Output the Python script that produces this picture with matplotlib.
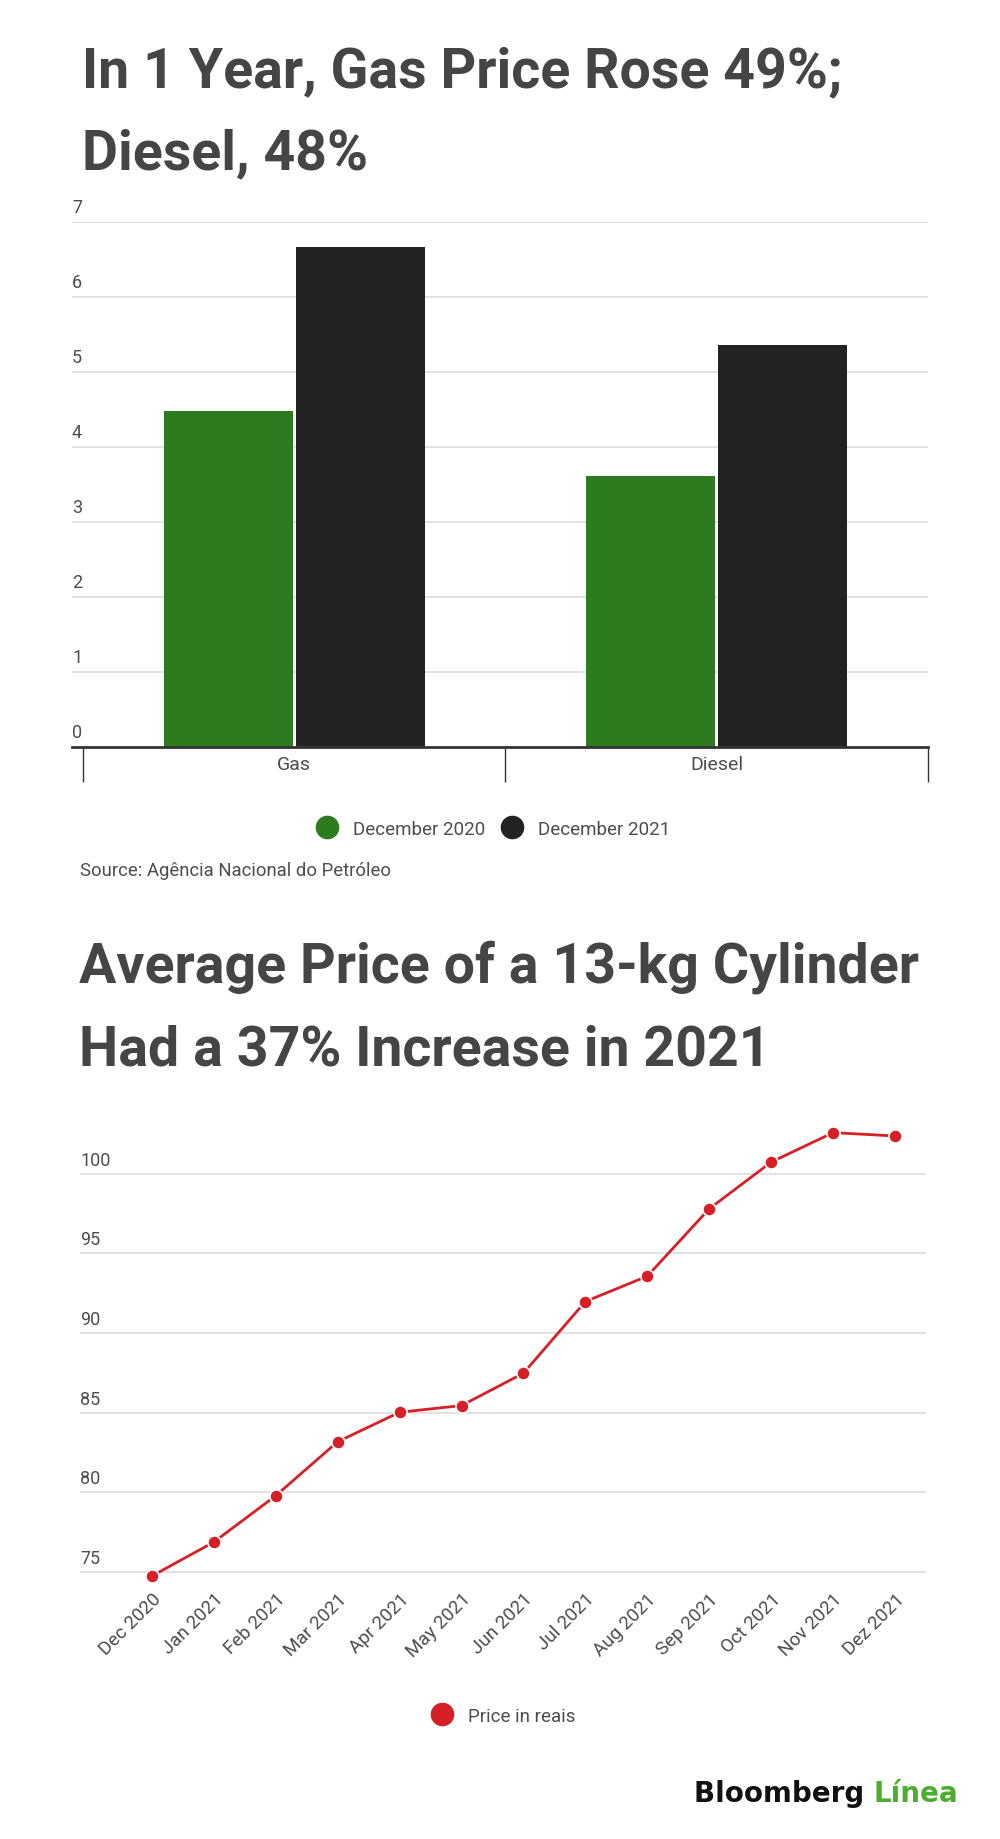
import matplotlib
matplotlib.use("Agg")
import matplotlib.pyplot as plt
import matplotlib.transforms as mtransforms
from matplotlib.lines import Line2D

plt.rcParams["font.family"] = ["Roboto", "DejaVu Sans"]

# --- data -------------------------------------------------------------
fuels = ["Gas", "Diesel"]
dec_2020 = [4.48, 3.61]
dec_2021 = [6.67, 5.36]
bar_series = ["December 2020", "December 2021"]
bar_ticks = [0, 1, 2, 3, 4, 5, 6, 7]

months = ["Dec 2020", "Jan 2021", "Feb 2021", "Mar 2021", "Apr 2021",
          "May 2021", "Jun 2021", "Jul 2021", "Aug 2021", "Sep 2021",
          "Oct 2021", "Nov 2021", "Dez 2021"]
cylinder_price = [74.75, 76.88, 79.79, 83.18, 85.03, 85.45, 87.48,
                  91.98, 93.57, 97.80, 100.73, 102.58, 102.37]
line_ticks = [75, 80, 85, 90, 95, 100]
line_series = "Price in reais"

title_1 = ["In 1 Year, Gas Price Rose 49%;", "Diesel, 48%"]
title_2 = ["Average Price of a 13-kg Cylinder", "Had a 37% Increase in 2021"]
source = "Source: Agência Nacional do Petróleo"

# --- styles -----------------------------------------------------------
W, H = 1000, 1840
GREEN = "#2e7a1f"
BLACK = "#222222"
RED = "#d61f26"
TITLE = "#454545"
TEXT = "#4d4d4d"
GRID = "#dddddd"


def box(left, top, right, bottom):
    return [left / W, 1 - bottom / H, (right - left) / W, (bottom - top) / H]


fig = plt.figure(figsize=(W / 100, H / 100), dpi=100)

for i, line in enumerate(title_1):
    fig.text(82 / W, 1 - (87 + 82 * i) / H, line, fontsize=40,
             fontweight="bold", color=TITLE, va="baseline")
for i, line in enumerate(title_2):
    fig.text(79 / W, 1 - (983 + 83 * i) / H, line, fontsize=40,
             fontweight="bold", color=TITLE, va="baseline")

# --- bar chart --------------------------------------------------------
ax1 = fig.add_axes(box(72, 223, 928, 748))
x = list(range(len(fuels)))
off, bw = 0.156, 0.305
ax1.bar([v - off for v in x], dec_2020, width=bw, color=GREEN, zorder=3)
ax1.bar([v + off for v in x], dec_2021, width=bw, color=BLACK, zorder=3)
ax1.set_xlim(-0.526, 1.5)
ax1.set_ylim(0, 7)
for s in ["top", "right", "left"]:
    ax1.spines[s].set_visible(False)
ax1.spines["bottom"].set_color("#333333")
ax1.spines["bottom"].set_linewidth(2)
ax1.spines["bottom"].set_zorder(4)
ax1.set_yticks(bar_ticks[1:])
ax1.yaxis.grid(True, color=GRID, lw=1.2)
ax1.tick_params(axis="y", length=0, labelleft=False)
ax1.set_xticks(x)
ax1.set_xticklabels(fuels, fontsize=14, color=TEXT)
ax1.tick_params(axis="x", which="major", length=0, pad=6)
ax1.set_xticks([-0.5, 0.5, 1.5], minor=True)
ax1.tick_params(axis="x", which="minor", length=25, width=1, color="#333333")
ax1.set_axisbelow(True)
lbl_tr = mtransforms.offset_copy(
    mtransforms.blended_transform_factory(ax1.transAxes, ax1.transData),
    fig=fig, y=6, units="dots")
for t in bar_ticks:
    ax1.text(0, t, str(t), transform=lbl_tr, fontsize=13, color=TEXT,
             ha="left", va="bottom")

handles = [Line2D([], [], ls="", marker="o", markersize=16, color=c)
           for c in (GREEN, BLACK)]
fig.legend(handles, bar_series, loc="center", ncol=2, frameon=False,
           bbox_to_anchor=(494 / W, 1 - 830 / H), fontsize=13.5,
           labelcolor=TEXT, handlelength=1.0, handletextpad=0.92,
           columnspacing=0.9)

fig.text(80 / W, 1 - 871 / H, source, fontsize=13.3, color=TEXT, va="center")

# --- line chart -------------------------------------------------------
ax2 = fig.add_axes(box(80, 1111, 926, 1589))
ax2.plot(range(len(months)), cylinder_price, color=RED, lw=2.0,
         marker="o", markersize=9.5, markeredgecolor="white",
         markeredgewidth=1.2, clip_on=False, zorder=3)
ax2.set_xlim(-1.16, 12.5)
ax2.set_ylim(74, 104)
for s in ax2.spines.values():
    s.set_visible(False)
ax2.set_yticks(line_ticks)
ax2.yaxis.grid(True, color=GRID, lw=1.2)
ax2.tick_params(axis="y", length=0, labelleft=False)
ax2.set_xticks(range(len(months)))
ax2.set_xticklabels(months, rotation=45, ha="right", va="top",
                    rotation_mode="anchor", fontsize=13.5, color=TEXT)
ax2.tick_params(axis="x", length=0, pad=1)
lbl_tr2 = mtransforms.offset_copy(
    mtransforms.blended_transform_factory(ax2.transAxes, ax2.transData),
    fig=fig, y=5, units="dots")
for t in line_ticks:
    ax2.text(0, t, str(t), transform=lbl_tr2, fontsize=13, color=TEXT,
             ha="left", va="bottom")

fig.legend([Line2D([], [], ls="", marker="o", markersize=16, color=RED)],
           [line_series], loc="center", frameon=False,
           bbox_to_anchor=(504 / W, 1 - 1717 / H), fontsize=13.5,
           labelcolor=TEXT, handlelength=1.0, handletextpad=0.92)

# --- logo -------------------------------------------------------------
logo = fig.text(694 / W, 1 - 1802 / H, "Bloomberg ", fontsize=20,
                fontweight="bold", color="#111111", va="baseline",
                family="DejaVu Sans")
fig.canvas.draw()
bb = logo.get_window_extent()
fig.text(bb.x1 / W, 1 - 1802 / H, "Línea", fontsize=20, fontweight="bold",
         color="#4cae2f", va="baseline", family="DejaVu Sans")

fig.savefig("out.png", dpi=100)
